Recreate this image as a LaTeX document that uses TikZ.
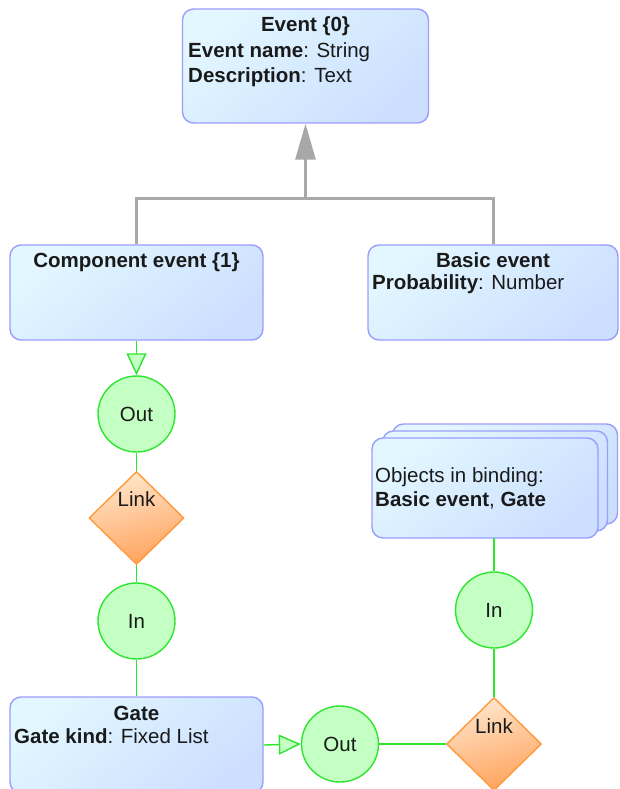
\documentclass[tikz,border=0pt]{standalone}
\usepackage{fontspec}
\setmainfont{Liberation Sans}
\usetikzlibrary{arrows.meta,shapes.geometric}
\definecolor{boxline}{HTML}{9C9CFF}
\definecolor{boxtop}{HTML}{E2F7FF}
\definecolor{boxbot}{HTML}{CCDFFF}
\definecolor{portline}{HTML}{2EE62E}
\definecolor{portfill}{HTML}{C4FFC4}
\definecolor{linkline}{HTML}{FF9A3C}
\definecolor{linktop}{HTML}{FFE6CC}
\definecolor{linkbot}{HTML}{FFA35C}
\definecolor{inherit}{HTML}{A8A8A8}
\definecolor{ink}{HTML}{1A1A1A}
\begin{document}
\begin{tikzpicture}[x=1pt,y=-1pt,
  classbox/.style={draw=boxline, line width=1.4pt, rounded corners=11pt,
    top color=boxtop, bottom color=boxbot, shading angle=40,
    inner sep=0pt, minimum width=#1},
  classbox/.default=253pt,
  lbl/.style={inner sep=0pt, text=ink, font=\fontsize{20.5}{24}\selectfont},
  port/.style={ellipse, draw=portline, line width=1.4pt, fill=portfill,
    minimum width=77pt, minimum height=76pt, inner sep=0pt, text=ink,
    font=\fontsize{20.5}{24}\selectfont},
  linkshape/.style={diamond, draw=linkline, line width=1.4pt,
    top color=linktop, bottom color=linkbot, shading angle=15,
    minimum width=95pt, minimum height=93pt, inner sep=0pt},
  wire/.style={draw=portline, line width=1.4pt},
  flow/.style={wire, -{Triangle[length=22pt, width=20pt, fill=portfill]}},
  generalize/.style={draw=inherit, line width=3pt,
    -{Triangle[length=36pt, width=20pt]}},
  tree/.style={draw=inherit, line width=3pt}]
\useasboundingbox (0,0) rectangle (619,789);
\clip (0,0) rectangle (619,789);

% class boxes
\node[classbox=246pt, minimum height=114pt] (event) at (305.5,66) {};
\node[lbl, anchor=base] (event-t) at (305.5,32) {\textbf{Event \{0\}}};
\node[lbl, anchor=base west] (event-a1) at (188,58) {\textbf{Event name}: String};
\node[lbl, anchor=base west] (event-a2) at (188,83) {\textbf{Description}: Text};

\node[classbox, minimum height=95pt] (comp) at (136.5,292.5) {};
\node[lbl, anchor=base] (comp-t) at (136.5,267) {\textbf{Component event \{1\}}};

\node[classbox=250pt, minimum height=95pt] (basic) at (493,292.5) {};
\node[lbl, anchor=base] (basic-t) at (493,267) {\textbf{Basic event}};
\node[lbl, anchor=base west] (basic-a1) at (372,289) {\textbf{Probability}: Number};

\node[classbox, minimum height=96pt] (gate) at (136.5,745) {};
\node[lbl, anchor=base] (gate-t) at (136.5,720) {\textbf{Gate}};
\node[lbl, anchor=base west] (gate-a1) at (14,743) {\textbf{Gate kind}: Fixed List};

% stacked binding box
\node[classbox=225pt, minimum height=100pt] (objs-back) at (505,474) {};
\node[classbox=225pt, minimum height=100pt] (objs-mid) at (495,481) {};
\node[classbox=226pt, minimum height=100pt] (objs) at (485,488) {};
\node[lbl, anchor=base west] (objs-a1) at (375,482) {Objects in binding:};
\node[lbl, anchor=base west] (objs-a2) at (375,506) {\textbf{Basic event}, \textbf{Gate}};
\coordinate (objs-out) at (494,538);

% generalization
\coordinate (fork) at (305.5,198);
\draw[tree] (comp.north) |- (fork) -| (basic.north);
\draw[generalize] (fork) -- (event.south);

% left chain
\node[port] (out1) at (136.5,414) {Out};
\node[linkshape] (link1) at (136.5,518) {};
\node[lbl, anchor=base] (link1-t) at (136.5,506) {Link};
\node[port] (in1) at (136.5,621) {In};

\draw[flow] (comp.south) -- (out1.north);
\draw[wire] (out1) -- (link1);
\draw[wire] (link1) -- (in1);
\draw[wire] (in1) -- (gate.north);

% right chain
\node[port] (out2) at (340,744) {Out};
\node[linkshape] (link2) at (494,744) {};
\node[lbl, anchor=base] (link2-t) at (494,733) {Link};
\node[port] (in2) at (494,610) {In};

\draw[flow] (gate.east) -- (out2.west);
\draw[wire] (out2) -- (link2);
\draw[wire] (link2) -- (in2);
\draw[wire] (in2) -- (objs-out);
\end{tikzpicture}
\end{document}
